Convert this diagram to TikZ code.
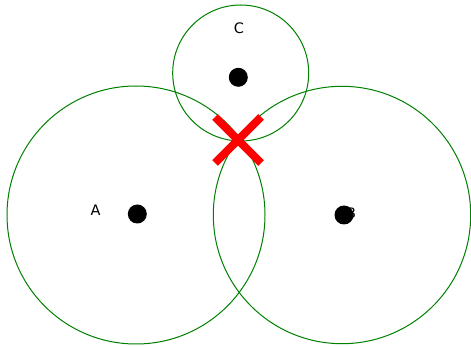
\documentclass[tikz,border=0pt]{standalone}
\usepackage{fontspec}
\setmainfont{DejaVu Sans}
\usepackage{xcolor}
\usepackage{tikz}
\definecolor{rangegreen}{RGB}{0,128,0}
\tikzset{
  rangering/.style={draw=rangegreen, line width=1pt},
  station/.style={circle, fill=black, inner sep=0pt, minimum size=19pt},
  stationlabel/.style={inner sep=0pt, font=\fontsize{14.5}{16}\selectfont},
  cross/.style={red, line width=8pt},
}
\begin{document}
\begin{tikzpicture}[x=1pt,y=-1pt]
\useasboundingbox (0,0) rectangle (471,347);
\draw[rangering] (136,215) circle (129);
\draw[rangering] (342,215) circle (128.7);
\draw[rangering] (240.7,73) circle (68);
\node[stationlabel] (labA) at (95.7,210) {A};
\node[stationlabel] (labB) at (351,213) {B};
\node[stationlabel] (labC) at (239,28.5) {C};
\node[station] (stA) at (137.3,214) {};
\node[station] (stB) at (344,215) {};
\node[station] (stC) at (238.3,77.3) {};
\draw[cross] (215,117) -- (261,163);
\draw[cross] (215,163) -- (261,117);
\end{tikzpicture}
\end{document}
